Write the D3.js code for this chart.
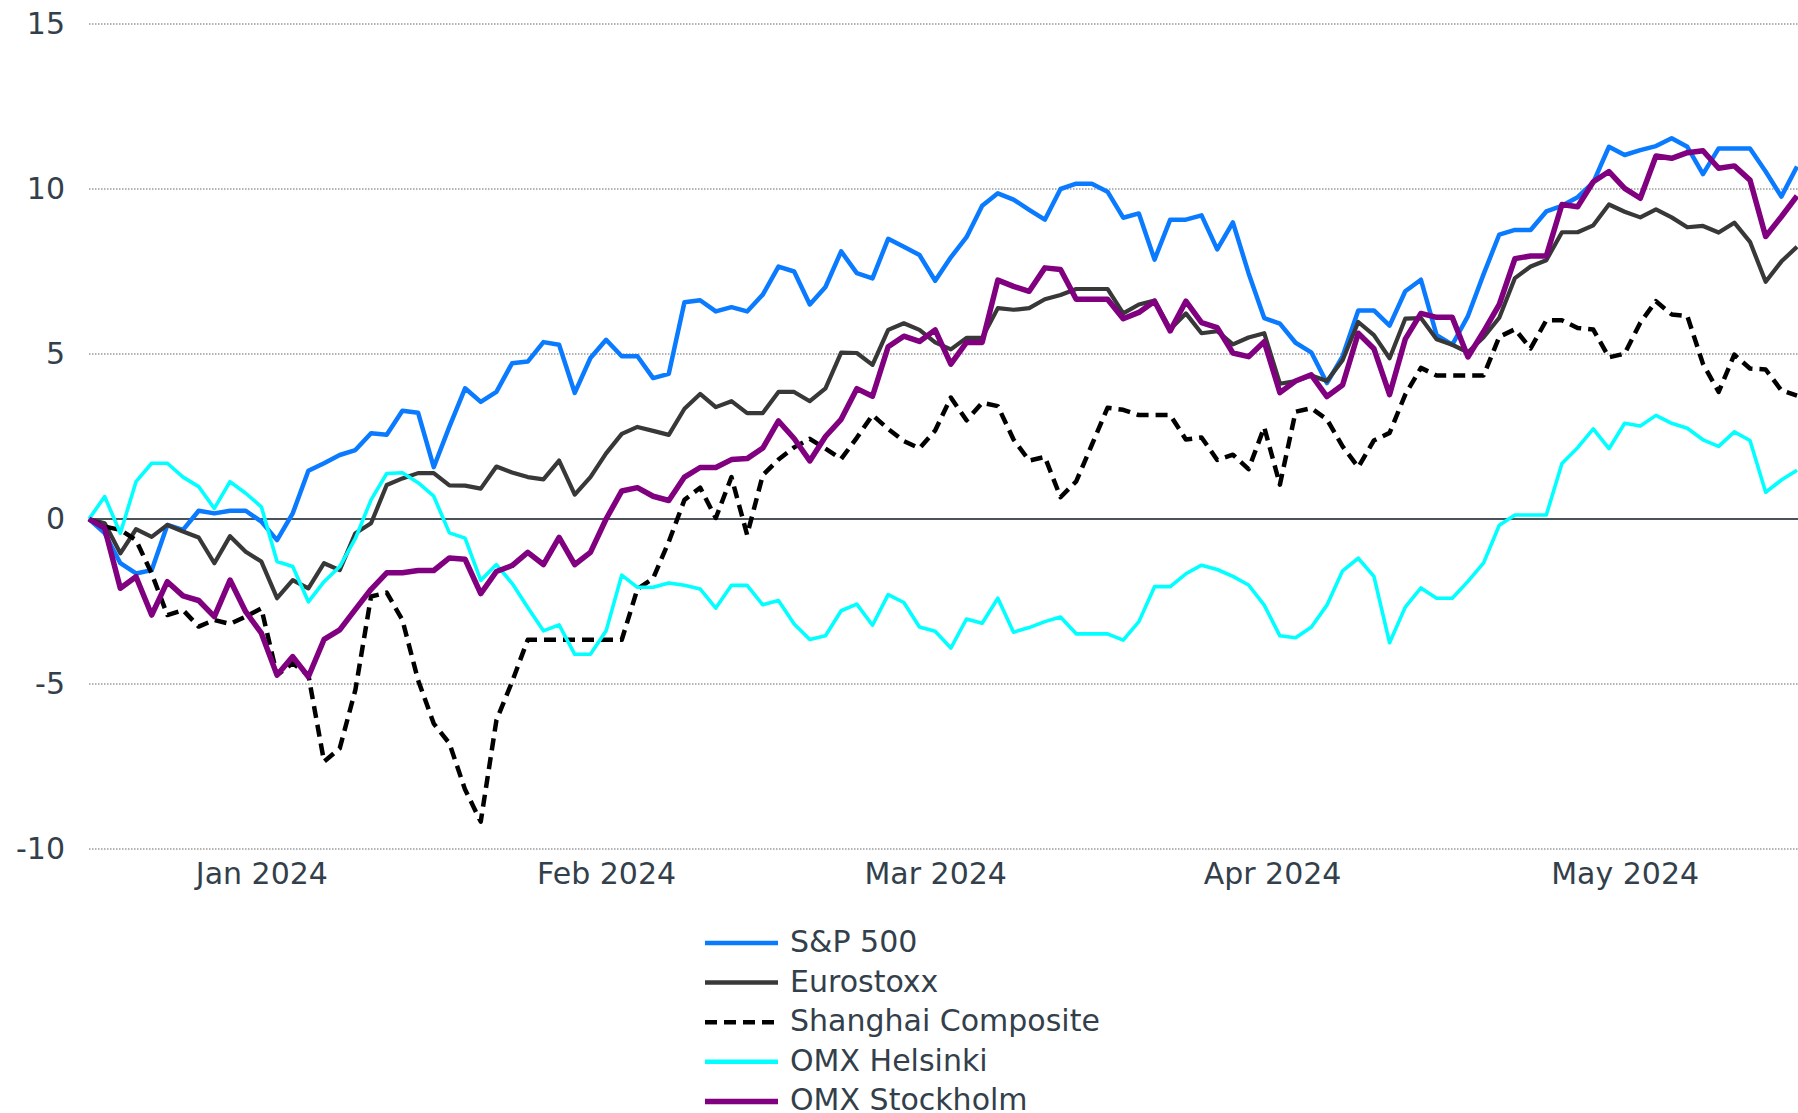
<!DOCTYPE html>
<html><head><meta charset="utf-8">
<script src="https://cdn.jsdelivr.net/npm/d3@7"></script>
<style>html,body{margin:0;padding:0;background:#fff;overflow:hidden}</style>
</head><body>
<svg id="chart" width="1798" height="1113"></svg>
<script>
// ---- data ----
const startDate = "2024-01-01";
const endDate = "2024-05-31";
const monthLabels = ["Jan 2024", "Feb 2024", "Mar 2024", "Apr 2024", "May 2024"];
const yTicks = [-10, -5, 0, 5, 10, 15];
const seriesNames = ["S&P 500", "Eurostoxx", "Shanghai Composite", "OMX Helsinki", "OMX Stockholm"];

const sp500 = [0, -0.43, -1.34, -1.65, -1.55, -0.18, -0.33, 0.25, 0.17, 0.25,
 0.25, -0.08, -0.64, 0.17, 1.46, 1.69, 1.94, 2.09, 2.60, 2.55,
 3.28, 3.22, 1.57, 2.8, 3.96, 3.55, 3.85, 4.72, 4.77, 5.36,
 5.28, 3.82, 4.88, 5.43, 4.93, 4.93, 4.27, 4.40, 6.57, 6.63,
 6.29, 6.42, 6.29, 6.8, 7.65, 7.5, 6.50, 7.03, 8.11, 7.45,
 7.29, 8.49, 8.25, 8.0, 7.22, 7.93, 8.54, 9.49, 9.87, 9.68,
 9.37, 9.07, 10.0, 10.16, 10.16, 9.92, 9.13, 9.26, 7.86, 9.07,
 9.07, 9.20, 8.17, 8.99, 7.45, 6.09, 5.92, 5.34, 5.05, 4.12,
 4.93, 6.32, 6.32, 5.86, 6.90, 7.25, 5.57, 5.28, 6.15, 7.42,
 8.62, 8.76, 8.76, 9.32, 9.49, 9.75, 10.2, 11.28, 11.03, 11.18,
 11.30, 11.54, 11.28, 10.45, 11.23, 11.23, 11.23, 10.53, 9.77, 10.68];

const eurostoxx = [0, -0.13, -1.04, -0.31, -0.54, -0.18, -0.38, -0.56, -1.34, -0.52,
 -0.99, -1.29, -2.40, -1.85, -2.10, -1.34, -1.55, -0.43, -0.13, 1.03,
 1.23, 1.39, 1.39, 1.02, 1.01, 0.92, 1.59, 1.41, 1.27, 1.20,
 1.77, 0.74, 1.27, 1.99, 2.58, 2.79, 2.67, 2.55, 3.34, 3.79,
 3.39, 3.57, 3.21, 3.21, 3.85, 3.85, 3.57, 3.96, 5.04, 5.03,
 4.67, 5.73, 5.93, 5.73, 5.35, 5.14, 5.49, 5.49, 6.39, 6.34,
 6.39, 6.66, 6.79, 6.97, 6.97, 6.97, 6.23, 6.50, 6.62, 5.75,
 6.23, 5.63, 5.69, 5.29, 5.50, 5.63, 4.1, 4.18, 4.35, 4.18,
 4.81, 5.97, 5.57, 4.87, 6.07, 6.09, 5.45, 5.28, 5.05, 5.51,
 6.10, 7.30, 7.65, 7.84, 8.69, 8.69, 8.90, 9.53, 9.31, 9.14,
 9.38, 9.14, 8.84, 8.88, 8.68, 8.98, 8.40, 7.19, 7.80, 8.25];

const shanghai = [0, -0.23, -0.33, -0.64, -1.65, -2.91, -2.76, -3.26, -3.06, -3.18,
 -2.96, -2.71, -4.73, -4.37, -4.73, -7.35, -6.95, -5.18, -2.35, -2.23,
 -3.06, -4.88, -6.2, -6.8, -8.2, -9.17, -6.10, -4.93, -3.66, -3.66,
 -3.66, -3.66, -3.66, -3.66, -3.66, -2.12, -1.80, -0.69, 0.58, 0.95,
 0.03, 1.27, -0.48, 1.33, 1.80, 2.17, 2.43, 2.13, 1.82, 2.46,
 3.15, 2.73, 2.36, 2.14, 2.68, 3.68, 2.99, 3.52, 3.42, 2.41,
 1.77, 1.88, 0.66, 1.14, 2.25, 3.37, 3.31, 3.15, 3.15, 3.15,
 2.41, 2.47, 1.79, 1.95, 1.51, 2.78, 1.04, 3.25, 3.36, 3.02,
 2.20, 1.57, 2.38, 2.61, 3.77, 4.58, 4.35, 4.35, 4.35, 4.35,
 5.52, 5.75, 5.17, 6.02, 6.02, 5.79, 5.74, 4.90, 5.01, 5.95,
 6.60, 6.20, 6.15, 4.70, 3.85, 4.98, 4.56, 4.53, 3.90, 3.74];

const helsinki = [0, 0.68, -0.43, 1.13, 1.69, 1.69, 1.27, 0.98, 0.32, 1.13,
 0.78, 0.37, -1.29, -1.44, -2.51, -1.90, -1.44, -0.59, 0.58, 1.38,
 1.40, 1.10, 0.69, -0.42, -0.58, -1.86, -1.38, -1.95, -2.68, -3.39,
 -3.21, -4.10, -4.10, -3.39, -1.70, -2.07, -2.07, -1.94, -2.01, -2.12,
 -2.70, -2.01, -2.01, -2.60, -2.47, -3.18, -3.65, -3.54, -2.78, -2.58,
 -3.22, -2.29, -2.53, -3.27, -3.40, -3.91, -3.03, -3.16, -2.40, -3.43,
 -3.29, -3.11, -2.97, -3.48, -3.48, -3.48, -3.67, -3.11, -2.05, -2.05,
 -1.66, -1.40, -1.53, -1.74, -2.0, -2.61, -3.54, -3.60, -3.28, -2.61,
 -1.57, -1.19, -1.74, -3.75, -2.67, -2.09, -2.40, -2.40, -1.89, -1.33,
 -0.19, 0.12, 0.12, 0.12, 1.68, 2.16, 2.73, 2.13, 2.90, 2.82,
 3.14, 2.90, 2.75, 2.40, 2.20, 2.64, 2.38, 0.81, 1.18, 1.48];

const stockholm = [0, -0.28, -2.10, -1.75, -2.91, -1.90, -2.33, -2.47, -2.96, -1.85,
 -2.81, -3.46, -4.73, -4.17, -4.78, -3.65, -3.36, -2.74, -2.13, -1.63,
 -1.63, -1.56, -1.56, -1.18, -1.22, -2.26, -1.59, -1.41, -1.01, -1.38,
 -0.56, -1.38, -1.01, 0.0, 0.85, 0.95, 0.69, 0.56, 1.27, 1.56,
 1.56, 1.80, 1.83, 2.15, 2.97, 2.44, 1.76, 2.50, 3.02, 3.95,
 3.72, 5.22, 5.54, 5.38, 5.73, 4.69, 5.35, 5.35, 7.24, 7.05,
 6.90, 7.61, 7.56, 6.66, 6.66, 6.66, 6.07, 6.26, 6.60, 5.70,
 6.60, 5.95, 5.80, 5.03, 4.92, 5.37, 3.83, 4.18, 4.37, 3.71,
 4.06, 5.63, 5.16, 3.77, 5.45, 6.23, 6.11, 6.11, 4.91, 5.68,
 6.50, 7.89, 7.97, 7.97, 9.53, 9.46, 10.22, 10.53, 10.02, 9.72,
 11.0, 10.93, 11.10, 11.16, 10.63, 10.70, 10.27, 8.56, 9.16, 9.79];

// ---- build ----
const parse = d3.timeParse("%Y-%m-%d");
const dates = d3.timeDay.range(parse(startDate), d3.timeDay.offset(parse(endDate), 1))
  .filter(d => d.getDay() !== 0 && d.getDay() !== 6);

const series = [
  {name: seriesNames[0], values: sp500, color: "#0a7bff", width: 4.5, dash: null},
  {name: seriesNames[1], values: eurostoxx, color: "#383838", width: 4.2, dash: null},
  {name: seriesNames[2], values: shanghai, color: "#000000", width: 4.5, dash: "12,7"},
  {name: seriesNames[3], values: helsinki, color: "#00ffff", width: 3.6, dash: null},
  {name: seriesNames[4], values: stockholm, color: "#800080", width: 5.5, dash: null}
];

const W = 1798, H = 1113;
const margin = {left: 89, right: 1, top: 24, bottom: 264};
const svg = d3.select("#chart");
const textColor = "#333f4b";
const font = "'DejaVu Sans', Verdana, sans-serif";

const x = d3.scaleLinear().domain([0, dates.length - 1]).range([margin.left, W - margin.right]);
const y = d3.scaleLinear().domain([-10, 15]).range([H - margin.bottom, margin.top]);

// gridlines
svg.append("g").selectAll("line").data(yTicks.filter(t => t !== 0)).join("line")
  .attr("x1", margin.left).attr("x2", W)
  .attr("y1", d => y(d)).attr("y2", d => y(d))
  .attr("stroke", "#9a9a9a").attr("stroke-width", 1.5).attr("stroke-dasharray", "1.5,1.5");

// zero line
svg.append("line").attr("x1", margin.left).attr("x2", W)
  .attr("y1", y(0)).attr("y2", y(0))
  .attr("stroke", "#4a535c").attr("stroke-width", 2);

// y axis
const yAxis = svg.append("g").attr("transform", `translate(${margin.left},0)`)
  .call(d3.axisLeft(y).tickValues(yTicks).tickSize(0).tickPadding(24).tickFormat(d => String(d)));
yAxis.select(".domain").remove();
yAxis.selectAll("text").attr("fill", textColor).style("font-family", font).style("font-size", "30px");

// x axis: month labels centered on each month's span of trading days
const monthStarts = monthLabels.map((_, m) => dates.findIndex(d => d.getMonth() === m));
const monthCenters = monthStarts.map((s, k) => {
  const e = (k + 1 < monthStarts.length ? monthStarts[k + 1] : dates.length) - 1;
  return (s + e) / 2;
});
const xAxis = svg.append("g").attr("transform", `translate(0,${y(-10)})`)
  .call(d3.axisBottom(x).tickValues(monthCenters).tickSize(0).tickPadding(14)
    .tickFormat((d, i) => monthLabels[i]));
xAxis.select(".domain").remove();
xAxis.selectAll("text").attr("fill", textColor).style("font-family", font).style("font-size", "30px");

// clip
svg.append("clipPath").attr("id", "clip").append("rect")
  .attr("x", margin.left - 5).attr("y", 0).attr("width", W - margin.left + 5).attr("height", H - margin.bottom + 20);

const line = d3.line().x((d, i) => x(i)).y(d => y(d));
const g = svg.append("g").attr("clip-path", "url(#clip)");
series.forEach(s => {
  g.append("path").datum(s.values)
    .attr("d", line)
    .attr("fill", "none")
    .attr("stroke", s.color)
    .attr("stroke-width", s.width)
    .attr("stroke-linejoin", "round")
    .attr("stroke-dasharray", s.dash);
});

// legend
const legend = svg.append("g");
const lx0 = 705, lx1 = 778, ly0 = 943, ldy = 39.6;
series.forEach((s, k) => {
  const yy = ly0 + k * ldy;
  legend.append("line").attr("x1", lx0).attr("x2", lx1).attr("y1", yy).attr("y2", yy)
    .attr("stroke", s.color).attr("stroke-width", Math.max(s.width, 4.5)).attr("stroke-dasharray", s.dash);
  legend.append("text").attr("x", 790).attr("y", yy).attr("dy", "0.3em")
    .attr("fill", textColor).style("font-family", font).style("font-size", "30px")
    .text(s.name);
});
</script>
</body></html>
